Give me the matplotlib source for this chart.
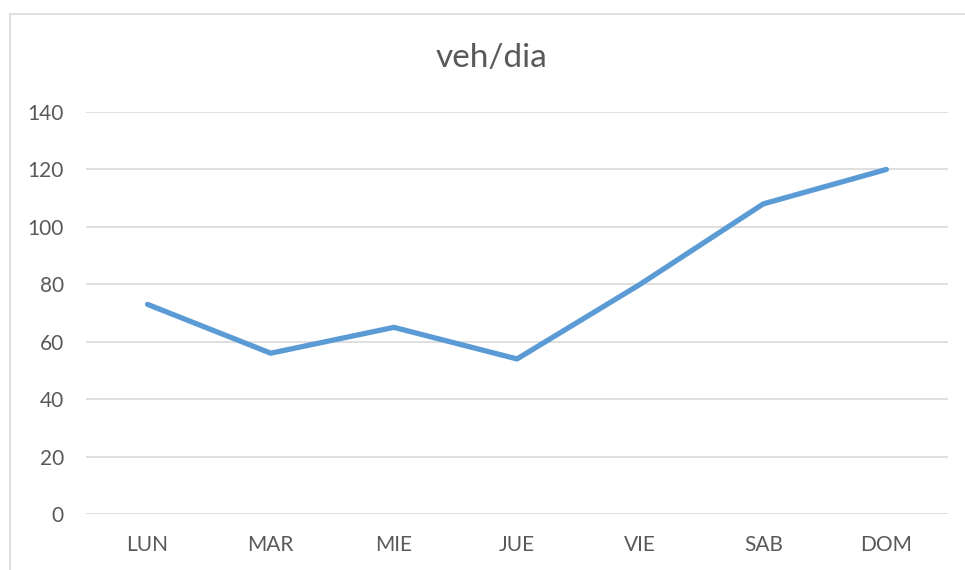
import matplotlib
matplotlib.use("Agg")
import matplotlib.pyplot as plt
from matplotlib.patches import Rectangle

days = ["LUN", "MAR", "MIE", "JUE", "VIE", "SAB", "DOM"]
veh = [73, 56, 65, 54, 80, 108, 120]
yticks = [0, 20, 40, 60, 80, 100, 120, 140]

plt.rcParams['font.family'] = ['Lato', 'DejaVu Sans']

W, H = 965, 570
fig = plt.figure(figsize=(W / 100, H / 100), dpi=100)

# chart frame (left and top edges visible, rest cut off)
fig.add_artist(Rectangle((10 / W, -0.1), 1.2, (H - 14) / H + 0.1,
                         transform=fig.transFigure, fill=False,
                         edgecolor='#d9d9d9', linewidth=1.2))

ax = fig.add_axes([86 / W, 56 / H, 862 / W, 402 / H])
x = list(range(len(days)))
ax.plot(x, veh, color='#5b9bd5', linewidth=3.8, solid_capstyle='round',
        solid_joinstyle='round', zorder=3)

ax.set_xlim(-0.5, len(days) - 0.5)
ax.set_ylim(0, 140)
ax.set_yticks(yticks)
ax.set_xticks(x)
ax.set_xticklabels(days)
ax.grid(axis='y', color='#d9d9d9', linewidth=1.2)
ax.set_axisbelow(True)
for s in ax.spines.values():
    s.set_visible(False)
ax.tick_params(length=0, labelsize=15, labelcolor='#595959')
ax.tick_params(axis='y', pad=16)
ax.tick_params(axis='x', pad=15)

fig.text(491 / W, 1 - 58 / H, "veh/dia", ha='center', va='center',
         fontsize=24, color='#595959')

fig.savefig("out.png", dpi=100)
